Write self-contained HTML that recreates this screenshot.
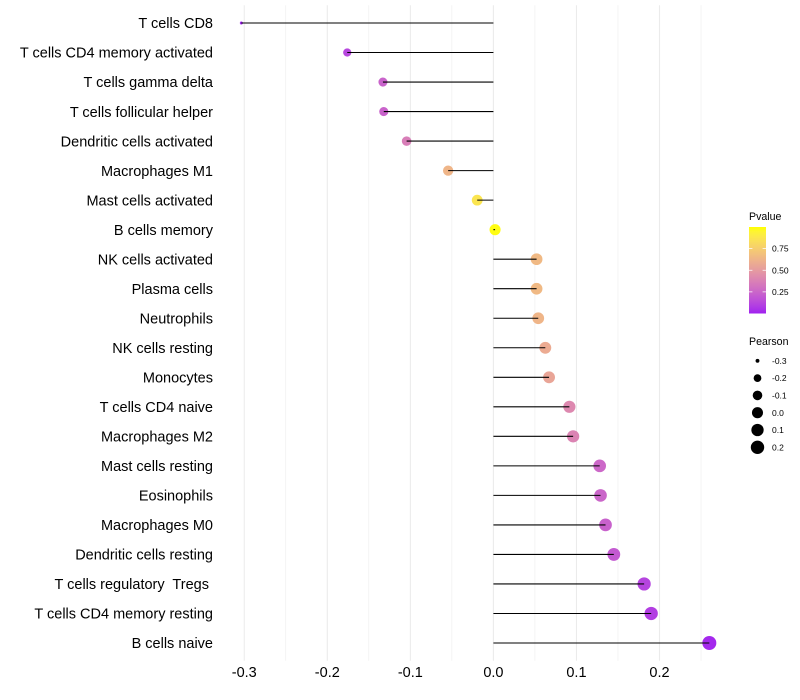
<!DOCTYPE html>
<html>
<head>
<meta charset="utf-8">
<style>
html,body{margin:0;padding:0;background:#fff;}
svg{display:block;}
text{font-family:"Liberation Sans",Arial,sans-serif;white-space:pre;}
</style>
</head>
<body>
<svg id="chart" xmlns="http://www.w3.org/2000/svg" width="800" height="700" viewBox="0 0 800 700">
<defs>
<linearGradient id="pgrad" x1="0" y1="1" x2="0" y2="0"></linearGradient>
</defs>
<rect width="800" height="700" fill="#fff"/>
<g id="grid"></g>
<g id="marks"></g>
<g id="ylabels"></g>
<g id="xlabels"></g>
<g id="legend-p">
<text x="749" y="220" font-size="10.6" fill="#000">Pvalue</text>
<rect x="749" y="227" width="17" height="86.5" fill="url(#pgrad)"/>
</g>
<g id="legend-s">
<text x="749" y="345" font-size="10.6" fill="#000">Pearson</text>
</g>
</svg>
<script>
const categories = ["T cells CD8","T cells CD4 memory activated","T cells gamma delta","T cells follicular helper","Dendritic cells activated","Macrophages M1","Mast cells activated","B cells memory","NK cells activated","Plasma cells","Neutrophils","NK cells resting","Monocytes","T cells CD4 naive","Macrophages M2","Mast cells resting","Eosinophils","Macrophages M0","Dendritic cells resting","T cells regulatory  Tregs ","T cells CD4 memory resting","B cells naive"];
const pearson = [-0.3035,-0.176,-0.133,-0.132,-0.1045,-0.0545,-0.0195,0.002,0.052,0.052,0.054,0.0625,0.067,0.0915,0.096,0.128,0.129,0.135,0.145,0.1815,0.19,0.26];
const pvalues = [0.006,0.12,0.24,0.24,0.36,0.63,0.87,0.99,0.65,0.65,0.63,0.58,0.55,0.41,0.39,0.26,0.25,0.23,0.2,0.11,0.09,0.02];
const xMajorTicks = [-0.3,-0.2,-0.1,0.0,0.1,0.2];
const xMinorTicks = [-0.25,-0.15,-0.05,0.05,0.15,0.25];
const pLegendTicks = [0.25,0.50,0.75];
const sizeLegendValues = [-0.3,-0.2,-0.1,0.0,0.1,0.2];

const NS = "http://www.w3.org/2000/svg";
const xScale = v => 493.4 + v * 830.5;
const yBand = i => 23 + i * (620 / 21);
const sizeMin = Math.min(...pearson), sizeMax = Math.max(...pearson);
const rScale = v => 1.5 + 5.5 * Math.sqrt(Math.max(0, (v - sizeMin) / (sizeMax - sizeMin)));

function hexToLab(r, g, b) {
  const lin = c => { c /= 255; return c > 0.04045 ? Math.pow((c + 0.055) / 1.055, 2.4) : c / 12.92; };
  const R = lin(r), G = lin(g), B = lin(b);
  const X = (0.4124 * R + 0.3576 * G + 0.1805 * B) / 0.95047;
  const Y = 0.2126 * R + 0.7152 * G + 0.0722 * B;
  const Z = (0.0193 * R + 0.1192 * G + 0.9505 * B) / 1.08883;
  const f = t => t > 0.008856 ? Math.cbrt(t) : 7.787 * t + 16 / 116;
  return [116 * f(Y) - 16, 500 * (f(X) - f(Y)), 200 * (f(Y) - f(Z))];
}
function labToRgb(L, a, b) {
  const fy = (L + 16) / 116, fx = a / 500 + fy, fz = fy - b / 200;
  const inv = t => t * t * t > 0.008856 ? t * t * t : (t - 16 / 116) / 7.787;
  const X = inv(fx) * 0.95047, Y = inv(fy), Z = inv(fz) * 1.08883;
  const g = c => { c = c > 0.0031308 ? 1.055 * Math.pow(c, 1 / 2.4) - 0.055 : 12.92 * c; return Math.round(Math.min(1, Math.max(0, c)) * 255); };
  return "rgb(" + g(3.2406 * X - 1.5372 * Y - 0.4986 * Z) + "," + g(-0.9689 * X + 1.8758 * Y + 0.0415 * Z) + "," + g(0.0557 * X - 0.204 * Y + 1.057 * Z) + ")";
}
const lowLab = hexToLab(160, 32, 240), highLab = hexToLab(255, 255, 0);
const colorScale = p => labToRgb(lowLab[0] + (highLab[0] - lowLab[0]) * p, lowLab[1] + (highLab[1] - lowLab[1]) * p, lowLab[2] + (highLab[2] - lowLab[2]) * p);

function mk(tag, parent, attrs, txt) {
  const el = document.createElementNS(NS, tag);
  for (const k in attrs) el.setAttribute(k, attrs[k]);
  if (txt !== undefined) el.textContent = txt;
  parent.appendChild(el);
  return el;
}

const grid = document.getElementById("grid");
xMinorTicks.forEach(t => {
  const el = mk("line", grid, {x1: xScale(t), x2: xScale(t), y1: 5.3, y2: 660.7, stroke: "#ebebeb", "stroke-width": 0.55});
  
  
});
xMajorTicks.forEach(t => {
  const el = mk("line", grid, {x1: xScale(t), x2: xScale(t), y1: 5.3, y2: 660.7, stroke: "#ebebeb", "stroke-width": 1.07});
  
  
});

const marks = document.getElementById("marks");
const ylabels = document.getElementById("ylabels");
categories.forEach((name, i) => {
  const y = yBand(i), v = pearson[i];
  const dot = mk("circle", marks, {cx: xScale(v), cy: y, r: rScale(v), fill: colorScale(pvalues[i])});
  
  
  const stem = mk("line", marks, {x1: xScale(0), x2: xScale(v), y1: y, y2: y, stroke: "#000", "stroke-width": 1.07});
  
  
  const lab = mk("text", ylabels, {x: 213, y: y + 5.2, "text-anchor": "end", "font-size": 14.5, fill: "#000"}, name);
  
  
});

const xlabels = document.getElementById("xlabels");
xMajorTicks.forEach(t => {
  const lab = mk("text", xlabels, {x: xScale(t), y: 677, "text-anchor": "middle", "font-size": 14.5, fill: "#000"}, t.toFixed(1));
  
  
});

const grad = document.getElementById("pgrad");
for (let k = 0; k <= 20; k++) {
  mk("stop", grad, {offset: (k * 5) + "%", "stop-color": colorScale(k / 20)});
}
const legendP = document.getElementById("legend-p");
const pBarY = p => 313.5 - p * 86.5;
pLegendTicks.forEach(p => {
  const t1 = mk("line", legendP, {x1: 749, x2: 752.4, y1: pBarY(p), y2: pBarY(p), stroke: "#fff", "stroke-width": 0.75});
  
  
  const t2 = mk("line", legendP, {x1: 762.6, x2: 766, y1: pBarY(p), y2: pBarY(p), stroke: "#fff", "stroke-width": 0.75});
  
  
  const lab = mk("text", legendP, {x: 772, y: pBarY(p) + 3.1, "font-size": 8.5, fill: "#000"}, p.toFixed(2));
  
  
});

const legendS = document.getElementById("legend-s");
sizeLegendValues.forEach((v, i) => {
  const y = 360.8 + i * 17.3;
  const dot = mk("circle", legendS, {cx: 757.5, cy: y, r: rScale(v), fill: "#000"});
  
  
  const lab = mk("text", legendS, {x: 772, y: y + 3.1, "font-size": 8.5, fill: "#000"}, v.toFixed(1));
  
  
});
</script>
</body>
</html>
